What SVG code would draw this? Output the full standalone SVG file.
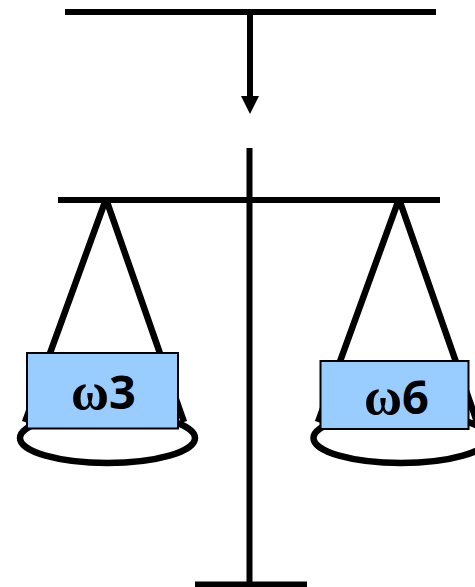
<svg xmlns="http://www.w3.org/2000/svg" width="475" height="587" viewBox="0 0 475 587">
<style>
.bar{stroke:#000;stroke-width:6;fill:none}
.cord{stroke:#000;stroke-width:6.500;fill:none;stroke-linejoin:bevel}
.pan{stroke:#000;stroke-width:6.500;fill:#fff}
.box{fill:#99ccff;stroke:#000;stroke-width:2}
.lbl{font-family:"Noto Sans",sans-serif;font-weight:bold;font-size:47px;fill:#000}
.om{font-family:"Liberation Serif",serif;font-size:52px}
</style>
<defs>
<marker id="head" markerUnits="userSpaceOnUse" markerWidth="18" markerHeight="18" refX="0" refY="9" orient="auto">
<path d="M0 0L18 9L0 18Z" fill="#000"/>
</marker>
</defs>
<rect width="475" height="587" fill="#fff"/>
<g id="connectors">
<path class="bar" d="M65 12H436"/>
<path class="bar" d="M250 12V96" marker-end="url(#head)"/>
<path class="bar" d="M249.500 148V582"/>
<path class="bar" d="M58 200H440"/>
<path class="bar" d="M195 584.500H307"/>
</g>
<g id="left-pan">
<ellipse class="pan" cx="107.500" cy="438" rx="87.500" ry="25"/>
<path class="cord" d="M25 422L106 199L184 422"/>
<rect class="box" x="27" y="353" width="151" height="75.500"/>
<text class="lbl" x="71" y="409"><tspan class="om">ω</tspan>3</text>
</g>
<g id="right-pan">
<ellipse class="pan" cx="401" cy="438" rx="87.500" ry="25"/>
<path class="cord" d="M318 422L399 199L477 422"/>
<rect class="box" x="320.500" y="361" width="148" height="68"/>
<text class="lbl" x="364" y="414"><tspan class="om">ω</tspan>6</text>
</g>
</svg>
